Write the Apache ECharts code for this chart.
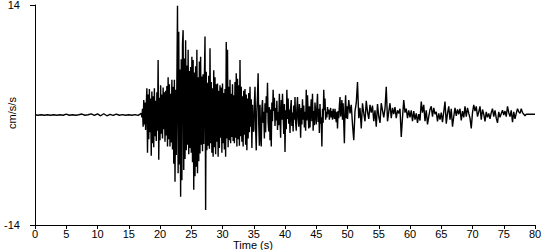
<!DOCTYPE html>
<html>
<head>
<meta charset="utf-8">
<script src="https://cdn.jsdelivr.net/npm/echarts@6/dist/echarts.min.js"></script>
<style>
html,body{margin:0;padding:0;background:#fff;}
#chart{width:550px;height:250px;}
</style>
</head>
<body>
<div id="chart"></div>
<script>
// Pre-event noise, sampled every 0.5 s from t = 0
const preStart = 0, preStep = 0.5;
const preValues = [0.03,-0.03,0.03,-0.03,0.03,-0.03,0.03,-0.03,0.03,-0.03,
  0.12,-0.03,0.03,-0.03,0.03,0.12,-0.03,0.03,0.14,-0.05,0.15,-0.1,0.16,-0.1,0.08,-0.05,0.12,-0.03,0.05,-0.03,0.04,-0.03,0.05,-0.05];

// Strong motion, sampled every 0.1 s from t = 17
const mainStart = 17, mainStep = 0.1;
const mainValues = [
  0.2,-0.3,0.8,-1.5,1.9,-1.2,1.6,-1.9,1.2,3.4,
  -4.8,2.6,-3.1,3.3,-2.2,2.1,-5.2,3.0,-3.6,2.4,
  -4.1,3.4,-2.7,1.8,-3.3,2.9,-2.0,7.0,-5.7,2.2,
  -3.2,3.8,-2.4,2.6,-3.0,3.5,-1.8,2.9,-3.4,3.1,
  -2.6,3.7,-4.0,4.8,-3.1,3.9,-4.0,2.7,-3.5,4.5,
  -4.4,3.6,-6.2,4.5,-8.5,3.2,-5.1,4.4,13.9,-7.4,
  10.6,-6.3,5.8,-10.4,7.1,-8.3,9.1,10.8,-7.0,7.2,
  -5.6,9.5,-4.5,6.3,-3.8,8.3,-5.0,5.6,-4.2,6.1,
  -4.8,7.4,-6.0,7.0,-9.5,5.4,-7.8,6.2,-6.6,8.3,
  -7.4,4.8,-5.9,6.8,-4.9,7.4,-3.8,4.9,-4.6,5.2,
  -3.7,4.4,10.0,-12.1,5.5,-4.5,4.1,-3.9,5.0,-4.3,
  8.5,-3.6,4.2,-4.8,3.4,-5.3,5.7,-4.1,4.8,-5.0,
  3.9,-3.4,4.0,-5.3,3.1,-4.2,3.8,-2.9,3.5,-4.8,
  4.0,-3.6,2.8,-4.4,3.3,-5.3,9.3,-3.0,8.3,-4.1,
  3.6,-3.2,4.5,-3.6,2.7,-2.8,3.9,-3.3,2.5,-3.6,
  4.2,-2.9,5.3,-4.0,4.6,-3.1,3.8,-3.9,7.0,-2.7,
  3.6,-3.4,2.4,-4.0,3.1,-2.5,3.3,-3.8,2.6,-4.5,
  2.1,-3.0,2.8,-2.2,3.6,-1.5,2.0,-4.2,1.3,-2.0
];

// Early coda, sampled every 0.1 s from t = 35
const codaStart = 35, codaStep = 0.1;
const codaValues = [
  -2.1,1.5,3.6,-1.8,-4.5,0.6,2.4,5.3,-1.2,-3.9,
  1.3,-2.6,-4.0,0.8,1.9,-1.0,0.4,-3.0,1.5,-2.2,
  2.4,0.3,4.1,-0.9,-2.1,1.0,-3.2,0.7,-4.0,1.6,
  -0.8,3.2,0.5,2.2,-1.4,0.9,-0.7,1.8,-1.9,0.4,
  -1.3,2.7,-0.4,-2.9,1.9,-0.6,2.7,0.2,-2.4,1.4,
  -4.7,0.6,-1.8,3.2,-0.5,2.1,-1.1,0.7,-2.3,1.0,
  1.9,-1.4,0.3,-2.1,1.2,-0.6,2.3,-0.9,-2.0,0.8,
  2.3,-0.5,-1.5,1.4,0.2,-2.9,0.9,-1.2,2.0,-0.6,
  1.2,-1.6,0.4,-2.0,3.2,-0.7,2.5,0.3,-1.7,1.1,
  -1.6,0.6,2.0,-0.8,2.7,-2.0,0.5,-1.3,1.6,0.2,
  -1.2,1.1,2.7,-0.9,0.8,-2.3,1.4,-1.1,-0.3,-4.0,
  0.8,-1.0,3.2,0.6,2.1,-0.6,0.4,-0.3,1.0,0.1,
  0.7,-0.6,0.2,0.9,-0.3,0.5,-0.6,0.8,0.1,-0.5,
  0.8,-0.2,-0.9,0.4,-1.7,0.5,-0.4,1.2,2.3,-0.2,
  0.4,1.9,-0.6,1.5,-1.0,-3.6,0.6,2.5,-0.4,1.1
];

// Late coda, sampled every 0.2 s from t = 50
const tailStart = 50, tailStep = 0.2;
const tailValues = [
  -0.5,1.9,0.2,1.3,-1.2,  -3.2,0.5,1.5,4.2,-0.4,
  0.9,-1.7,1.5,0.2,-0.8,  1.8,0.4,-0.5,1.3,0.3,
  1.2,-0.8,0.6,-1.5,1.4,  -0.2,-1.0,1.5,0.6,-0.3,
  0.8,3.6,-0.8,0.4,1.5,  -0.4,0.9,0.1,1.0,-0.4,
  0.6,0.2,0.8,-2.8,-0.3,  1.9,0.3,0.8,-0.4,0.6,
  -0.3,0.6,-0.8,0.5,-0.6,  0.2,-1.0,0.1,-0.7,1.7,
  0.3,1.3,-0.8,0.6,-1.2,  -0.2,0.7,1.1,-0.2,0.9,
  0.1,0.4,-0.8,0.2,-0.6,  0.3,-0.9,0.4,1.7,-1.1,
  0.2,1.1,-0.6,0.8,-1.5,  -0.2,0.9,-0.1,0.7,0.1,
  0.8,-0.7,0.5,-0.3,1.1,  -0.2,0.9,0.2,-0.4,-1.7,
  0.3,1.3,0.5,1.1,-0.2,  0.4,1.1,-0.6,0.7,0.1,
  -0.8,0.4,-0.3,0.2,-0.5,  0.3,0.8,-0.2,0.6,-0.4,
  -1.0,0.4,-0.3,0.2,0.6,  0.0,0.5,-0.2,1.1,0.3,
  -0.2,0.6,-0.9,0.4,-0.5,  0.2,0.8,0.4,0.2,0.8,
  0.3,0.1,-0.1,0.1,0.1,  0.1,0.1,0.1,0.1,0.1,
  0.1
];

const xTicks = {min: 0, max: 80, step: 5};
const yTicks = {min: -14, max: 14, step: 28};
const xTitle = 'Time (s)';
const yTitle = 'cm/s/s';

function segment(start, step, vals) {
  return vals.map((v, i) => [+(start + i * step).toFixed(3), v]);
}
const seriesData = []
  .concat(segment(preStart, preStep, preValues))
  .concat(segment(mainStart, mainStep, mainValues))
  .concat(segment(codaStart, codaStep, codaValues))
  .concat(segment(tailStart, tailStep, tailValues));

const FONT = 'Liberation Sans, Arial, sans-serif';
const chart = echarts.init(document.getElementById('chart'), null, {renderer: 'svg'});
chart.setOption({
  animation: false,
  backgroundColor: '#ffffff',
  grid: {left: 35, right: 15, top: 5, bottom: 25, containLabel: false, outerBoundsMode: 'none'},
  xAxis: {
    type: 'value', min: xTicks.min, max: xTicks.max, interval: xTicks.step,
    axisLine: {show: true, onZero: false, lineStyle: {color: '#000', width: 1}},
    axisTick: {show: true, length: 4, lineStyle: {color: '#000'}},
    axisLabel: {color: '#000', fontFamily: FONT, fontSize: 11, margin: 3},
    splitLine: {show: false}
  },
  yAxis: {
    type: 'value', min: yTicks.min, max: yTicks.max, interval: yTicks.step,
    axisLine: {show: true, onZero: false, lineStyle: {color: '#000', width: 1}},
    axisTick: {show: true, length: 5, lineStyle: {color: '#000'}},
    axisLabel: {color: '#000', fontFamily: FONT, fontSize: 11, margin: 15},
    splitLine: {show: false}
  },
  graphic: [{
    type: 'text', left: 233, top: 239,
    style: {text: xTitle, fill: '#000', font: '11px ' + FONT}
  }, {
    type: 'text', x: 12, y: 113, rotation: Math.PI / 2,
    style: {text: yTitle, fill: '#000', font: '11px ' + FONT, align: 'center', verticalAlign: 'middle'}
  }],
  series: [{
    type: 'line', data: seriesData, showSymbol: false, symbol: 'none',
    sampling: null, smooth: false,
    lineStyle: {color: '#000', width: 1.4},
    emphasis: {disabled: true}
  }]
});
</script>
</body>
</html>
